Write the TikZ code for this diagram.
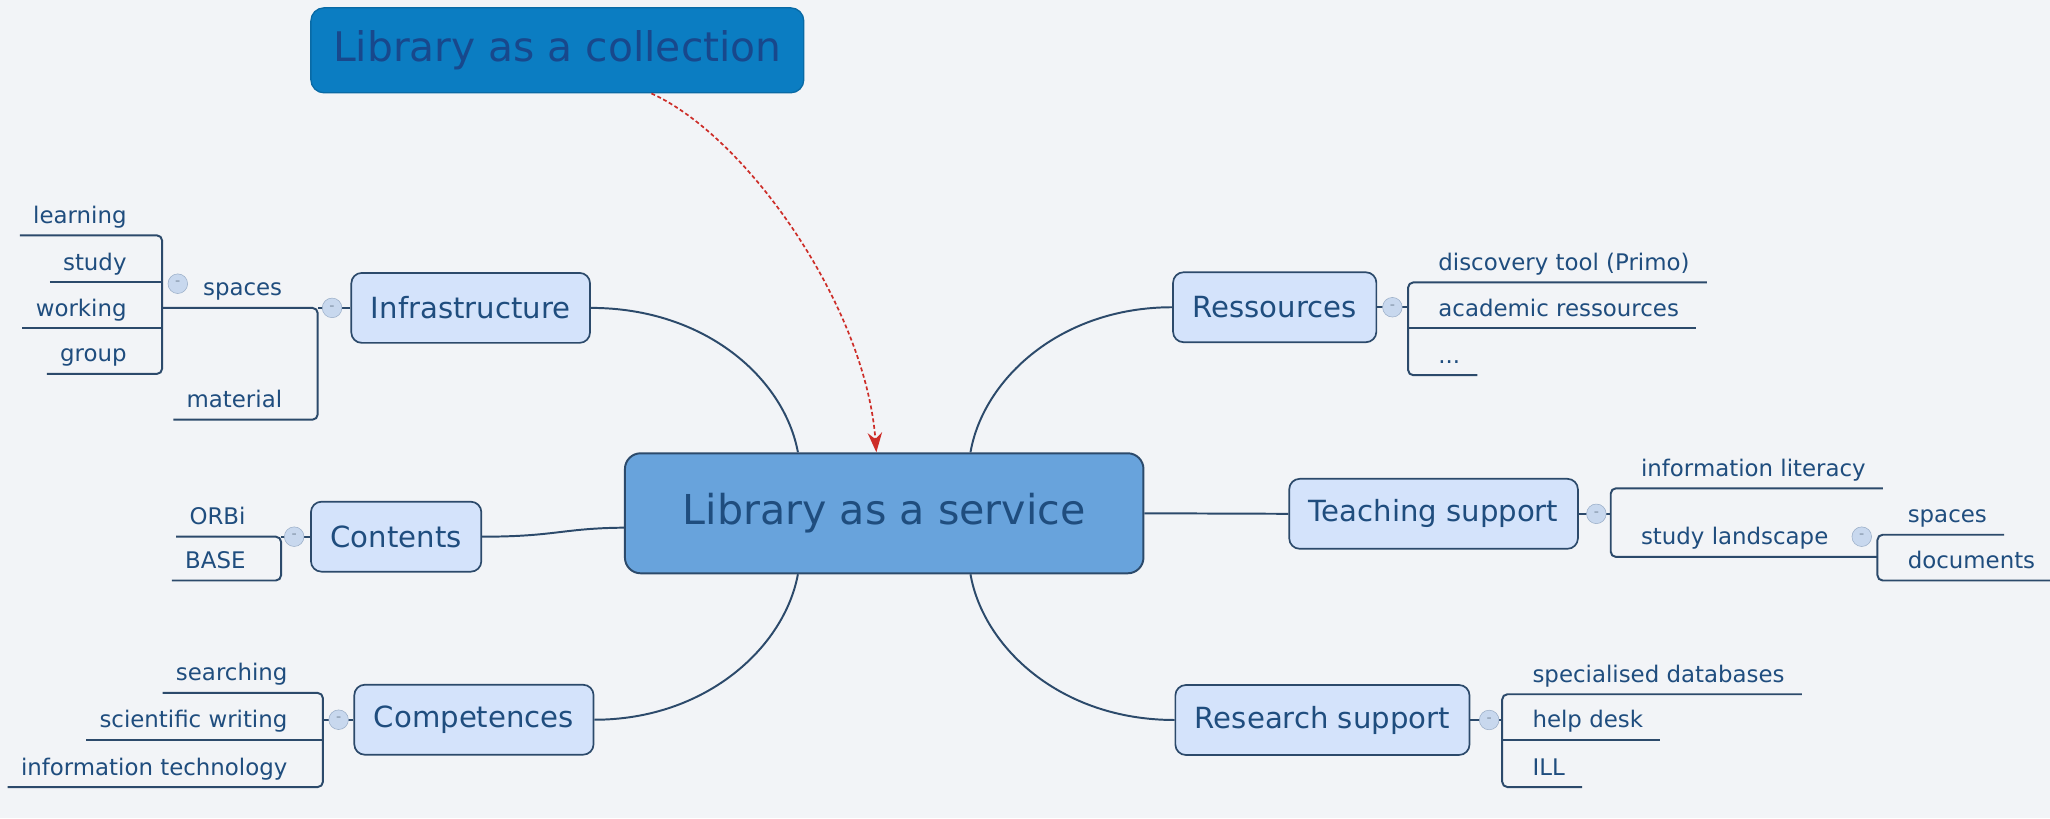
\documentclass[tikz,border=0pt]{standalone}
\usepackage{fontspec}
\setmainfont{DejaVu Sans}
\usepackage{xcolor}
\usepackage{tikz}
\usetikzlibrary{
    arrows,
    arrows.meta
}
\definecolor{bgc}{RGB}{242,244,247}
\definecolor{ink}{RGB}{31,77,126}
\definecolor{edge}{RGB}{44,74,107}
\definecolor{topicfill}{RGB}{212,227,251}
\definecolor{mainfill}{RGB}{104,163,220}
\definecolor{collfill}{RGB}{11,125,194}
\definecolor{collink}{RGB}{24,72,140}
\definecolor{arrowred}{RGB}{205,45,40}
\definecolor{knobfill}{RGB}{200,216,238}

\begin{document}
\begin{tikzpicture}[x=1pt,y=-1pt,line join=round,>=stealth',
    branch/.style={draw=edge,line width=1.5pt},
    topic/.style={draw=edge,fill=topicfill,rounded corners=8pt,line width=1.3pt,text=ink,
        font=\fontsize{22.3}{26}\selectfont,minimum height=53.5pt,inner xsep=15pt},
    leafl/.style={text=ink,font=\fontsize{17.5}{20}\selectfont,anchor=south east,
        inner xsep=10pt,inner ysep=3.5pt,text height=13pt,text depth=5.5pt},
    leafr/.style={leafl,anchor=south west,inner xsep=13pt},
    knob/.style={circle,draw=knobfill!70!edge,fill=knobfill,minimum size=15pt,inner sep=0pt,
        text=edge!60,font=\fontsize{11}{11}\selectfont},
    link/.style={draw=arrowred,line width=1.3pt,dash pattern=on 3pt off 2pt,
        -{Stealth[length=15pt,width=11pt]}}]
    \fill[bgc] (0,0) rectangle (1568,626);
    \useasboundingbox (0,0) rectangle (1568,626);

    \node [draw=collfill!85!black,fill=collfill,rounded corners=10pt,line width=1pt,text=collink,
        font=\fontsize{31.2}{36}\selectfont,minimum width=377pt,minimum height=65pt] (coll) at (426.3,38.5) {Library as a collection};
    \node [draw=edge,fill=mainfill,rounded corners=12pt,line width=1.5pt,text=ink,
        font=\fontsize{31.5}{36}\selectfont,minimum width=396.6pt,minimum height=91.8pt] (main) at (676.3,392.6) {Library as a service};

    \node [topic] (infra) at (360,235.5) {Infrastructure};
    \node [topic] (cont) at (303,410.5) {Contents};
    \node [topic] (comp) at (362.5,550.5) {Competences};
    \node [topic] (res) at (975,235) {Ressources};
    \node [topic] (teach) at (1096.5,393) {Teaching support};
    \node [topic] (rsch) at (1011.5,550.7) {Research support};

    \draw [branch] (infra.east) .. controls (540,235.5) and (600,290) .. ([xshift=-66pt]main.north);
    \draw [branch] (res.west) .. controls (811,235) and (752,290) .. ([xshift=66pt]main.north);
    \draw [branch] (comp.east) .. controls (540,550.5) and (600,495) .. ([xshift=-66pt]main.south);
    \draw [branch] (rsch.west) .. controls (811,550.7) and (752,495) .. ([xshift=66pt]main.south);
    \draw [branch] (cont.east) .. controls (425,410.5) and (430,404) .. ([yshift=-11pt]main.west);
    \draw [branch] (main.east) -- (teach.west);
    \draw [link] ([xshift=72pt]coll.south) .. controls (572,105) and (662,235) .. ([xshift=-6pt]main.north);

    \coordinate (ib) at (243,235.5);
    \coordinate (spb) at (124,235.5);
    \coordinate (cb) at (215,410.5);
    \coordinate (mb) at (247,550.5);
    \coordinate (rb) at (1077,235);
    \coordinate (tb) at (1232,393);
    \coordinate (slb) at (1436,426);
    \coordinate (sb) at (1149,550.7);

    \node [leafl] (lrn) at (107,180) {learning};
    \node [leafl] (stu) at (107,216) {study};
    \node [leafl] (wrk) at (107,251) {working};
    \node [leafl] (grp) at (107,286) {group};
    \node [leafl] (spc) at (226,235.5) {spaces};
    \node [leafl] (mat) at (226,321) {material};
    \node [leafl] (orbi) at (198,410.5) {ORBi};
    \node [leafl] (base) at (198,444) {BASE};
    \node [leafl] (srch) at (230,530) {searching};
    \node [leafl] (sciw) at (230,566) {scientific writing};
    \node [leafl] (itec) at (230,602) {information technology};
    \node [leafr] (disc) at (1087,216) {discovery tool (Primo)};
    \node [leafr] (acad) at (1087,251) {academic ressources};
    \node [leafr] (more) at (1087,287) {...};
    \node [leafr] (ilit) at (1242,373.5) {information literacy};
    \node [leafr] (land) at (1242,426) {study landscape};
    \node [leafr] (lsp) at (1446,409) {spaces};
    \node [leafr] (docs) at (1446,444) {documents};
    \node [leafr] (sdb) at (1159,531) {specialised databases};
    \node [leafr] (help) at (1159,566) {help desk};
    \node [leafr] (ill) at (1159,602) {ILL};

    \draw [branch] (infra.west) -- (ib);
    \draw [branch,rounded corners=4pt] (spc.south -| spb) -- (spc.south -| ib) -- (mat.south -| ib) -- (mat.south west);
    \draw [branch,rounded corners=4pt] (lrn.south west) -- (lrn.south -| spb) -- (grp.south -| spb) -- (grp.south west);
    \draw [branch] (stu.south west) -- (stu.south -| spb);
    \draw [branch] (wrk.south west) -- (wrk.south -| spb);

    \draw [branch] (cont.west) -- (cb);
    \draw [branch,rounded corners=4pt] (orbi.south west) -- (orbi.south -| cb) -- (base.south -| cb) -- (base.south west);

    \draw [branch] (comp.west) -- (mb);
    \draw [branch,rounded corners=4pt] (srch.south west) -- (srch.south -| mb) -- (itec.south -| mb) -- (itec.south west);
    \draw [branch] (sciw.south west) -- (sciw.south -| mb);

    \draw [branch] (res.east) -- (rb);
    \draw [branch,rounded corners=4pt] (disc.south east) -- (disc.south -| rb) -- (more.south -| rb) -- (more.south east);
    \draw [branch] (acad.south -| rb) -- (acad.south east);

    \draw [branch] (teach.east) -- (tb);
    \draw [branch,rounded corners=4pt] (ilit.south east) -- (ilit.south -| tb) -- (land.south -| tb) -- (slb);
    \draw [branch,rounded corners=4pt] (lsp.south east) -- (lsp.south -| slb) -- (docs.south -| slb) -- (docs.south east);

    \draw [branch] (rsch.east) -- (sb);
    \draw [branch,rounded corners=4pt] (sdb.south east) -- (sdb.south -| sb) -- (ill.south -| sb) -- (ill.south east);
    \draw [branch] (help.south -| sb) -- (help.south east);

    \node [knob] at (254,235.5) {-};
    \node [knob] at (136,217) {-};
    \node [knob] at (225,410.5) {-};
    \node [knob] at (259,550.5) {-};
    \node [knob] at (1065,235) {-};
    \node [knob] at (1221,393) {-};
    \node [knob] at (1424,410.5) {-};
    \node [knob] at (1139,550.7) {-};
\end{tikzpicture}
\end{document}
